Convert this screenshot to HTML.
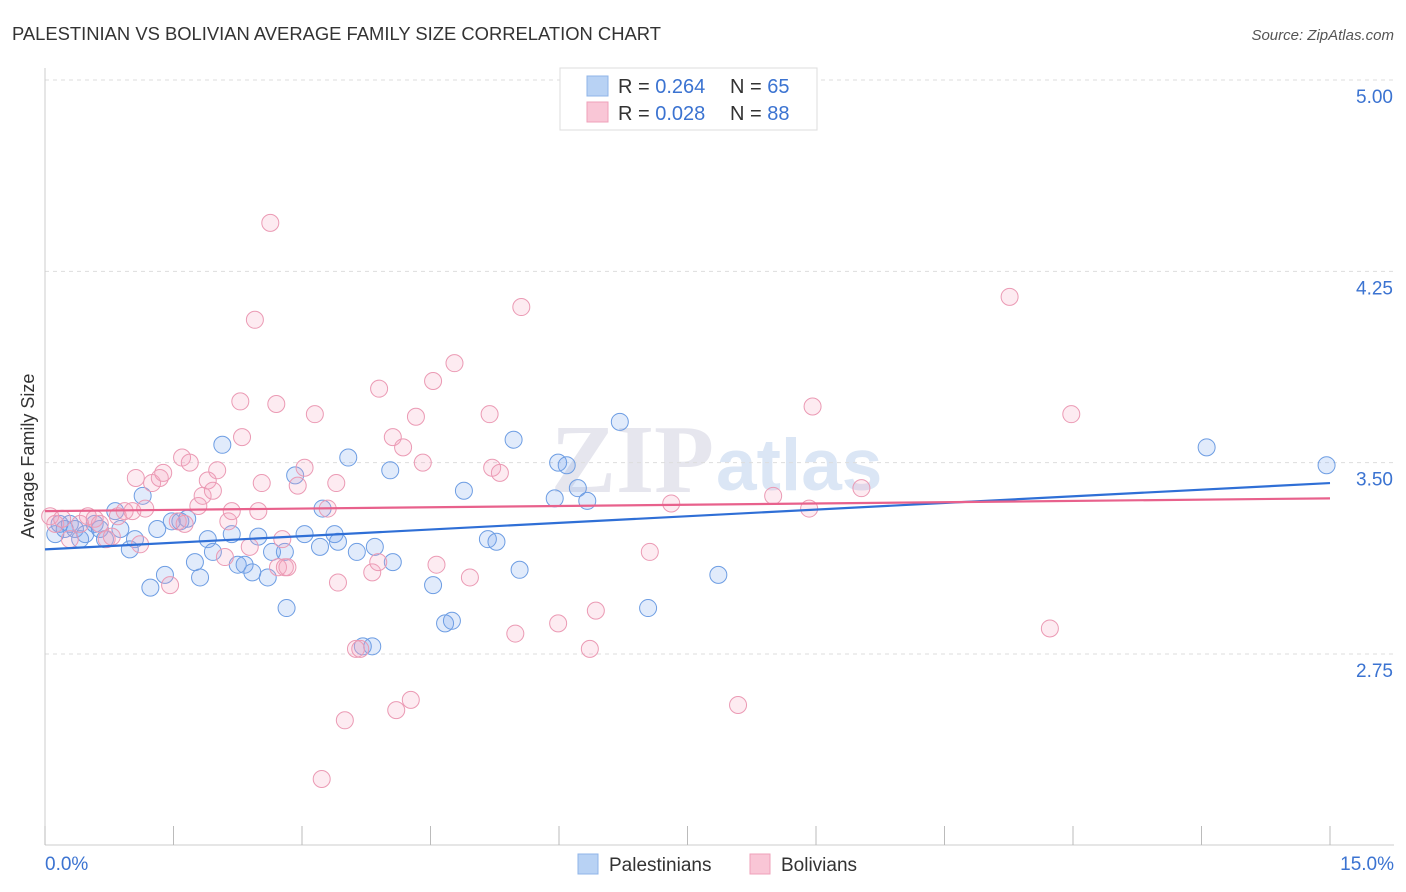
<!DOCTYPE html>
<html><head><meta charset="utf-8">
<style>
body{margin:0;background:#fff;font-family:"Liberation Sans",sans-serif;}
svg{display:block}
</style></head>
<body>
<svg id="chart" width="1406" height="892" xmlns="http://www.w3.org/2000/svg">
<text x="12" y="40" font-size="18.4" fill="#333">PALESTINIAN VS BOLIVIAN AVERAGE FAMILY SIZE CORRELATION CHART</text>
<text x="1394" y="40" font-size="15" fill="#555" font-style="italic" text-anchor="end">Source: ZipAtlas.com</text>
<text x="714" y="492" font-size="98" fill="#e6e6ee" text-anchor="end" font-family="Liberation Serif" font-weight="bold">ZIP</text>
<text x="716" y="490" font-size="73" fill="#dbe6f5" font-weight="bold">atlas</text>
<text x="34" y="456" font-size="18" fill="#333" text-anchor="middle" transform="rotate(-90 34 456)">Average Family Size</text>
<g id="grid"></g><g id="axes"></g><g id="pts"></g><g id="trend"></g>
<g>
<rect x="560" y="68" width="257" height="62" fill="#fff" stroke="#ddd"/>
<rect x="587" y="76" width="21" height="20" fill="#b8d2f4" stroke="#8fb4e8"/>
<rect x="587" y="102" width="21" height="20" fill="#f9c6d6" stroke="#efa0ba"/>
<text x="618" y="93" font-size="20" fill="#333">R = <tspan fill="#3b73d1">0.264</tspan></text>
<text x="730" y="93" font-size="20" fill="#333">N = <tspan fill="#3b73d1">65</tspan></text>
<text x="618" y="120" font-size="20" fill="#333">R = <tspan fill="#3b73d1">0.028</tspan></text>
<text x="730" y="120" font-size="20" fill="#333">N = <tspan fill="#3b73d1">88</tspan></text>
</g>
<g>
<rect x="578" y="854" width="20" height="20" fill="#b8d2f4" stroke="#8fb4e8"/>
<text x="609" y="871" font-size="19" fill="#333">Palestinians</text>
<rect x="750" y="854" width="20" height="20" fill="#f9c6d6" stroke="#efa0ba"/>
<text x="781" y="871" font-size="19" fill="#333">Bolivians</text>
</g>
</svg>
<script>
const yTicks=[2.75,3.50,4.25,5.00];
const xTickLabels=["0.0%","15.0%"];
const blueX=[.12,.17,.23,.29,.35,.41,.47,.58,.64,.70,.82,.88,.99,1.05,1.14,1.23,1.31,1.40,1.48,1.58,1.66,1.75,1.81,1.90,1.96,2.07,2.18,2.25,2.33,2.42,2.49,2.60,2.65,2.80,2.82,2.92,3.03,3.21,3.24,3.38,3.42,3.54,3.64,3.71,3.82,3.85,4.03,4.06,4.53,4.67,4.75,4.89,5.17,5.27,5.47,5.54,5.95,5.99,6.09,6.22,6.33,6.71,7.04,7.86,13.56,14.96];
const blueY=[3.22,3.26,3.24,3.26,3.24,3.20,3.22,3.26,3.24,3.20,3.31,3.24,3.16,3.20,3.37,3.01,3.24,3.06,3.27,3.27,3.28,3.11,3.05,3.20,3.15,3.57,3.22,3.10,3.10,3.07,3.21,3.05,3.15,3.15,2.93,3.45,3.22,3.17,3.32,3.22,3.19,3.52,3.15,2.78,2.78,3.17,3.47,3.11,3.02,2.87,2.88,3.39,3.20,3.19,3.59,3.08,3.36,3.50,3.49,3.40,3.35,3.66,2.93,3.06,3.56,3.49];
const pinkX=[.06,.12,.20,.29,.41,.50,.58,.64,.72,.78,.85,.93,1.02,1.06,1.11,1.17,1.25,1.34,1.38,1.46,1.55,1.60,1.63,1.69,1.79,1.84,1.90,1.96,2.01,2.10,2.14,2.18,2.28,2.30,2.39,2.45,2.49,2.53,2.63,2.70,2.72,2.77,2.80,2.83,2.95,3.03,3.15,3.23,3.30,3.40,3.42,3.50,3.63,3.68,3.82,3.89,3.90,4.06,4.10,4.18,4.27,4.33,4.41,4.53,4.57,4.78,4.96,5.19,5.22,5.31,5.49,5.56,5.99,6.36,6.43,7.06,7.31,8.09,8.50,8.92,8.96,9.53,11.26,11.73,11.98];
const pinkY=[3.29,3.26,3.28,3.20,3.26,3.29,3.28,3.26,3.20,3.21,3.29,3.31,3.31,3.44,3.18,3.32,3.42,3.44,3.46,3.02,3.27,3.52,3.26,3.50,3.33,3.37,3.43,3.39,3.47,3.13,3.27,3.31,3.74,3.60,3.17,4.06,3.31,3.42,4.44,3.73,3.09,3.20,3.09,3.09,3.41,3.48,3.69,2.26,3.32,3.42,3.03,2.49,2.77,2.77,3.07,3.11,3.79,3.60,2.53,3.56,2.57,3.68,3.50,3.82,3.10,3.89,3.05,3.69,3.48,3.46,2.83,4.11,2.87,2.77,2.92,3.15,3.34,2.55,3.37,3.32,3.72,3.40,4.15,2.85,3.69];
const blueTrend=[3.16,3.42];
const pinkTrend=[3.31,3.36];
const NS="http://www.w3.org/2000/svg";
const sx=v=>45+v/15*1285;
const sy=v=>80+(5-v)*255.1;
function mk(tag,attrs,parent){const e=document.createElementNS(NS,tag);for(const k in attrs)e.setAttribute(k,attrs[k]);parent.appendChild(e);return e;}
const grid=document.getElementById('grid'),axes=document.getElementById('axes'),pts=document.getElementById('pts'),tr=document.getElementById('trend');
yTicks.forEach(t=>{
 const l=mk('line',{x1:45,x2:1394,y1:sy(t),y2:sy(t),stroke:'#ddd','stroke-dasharray':'4 4'},grid);
 
 
 const tx=mk('text',{x:1393,y:sy(t)+23,'font-size':19,fill:'#3b73d1','text-anchor':'end'},axes);
 tx.textContent=t.toFixed(2);
 
 
});
const ax=mk('line',{x1:45,x2:45,y1:68,y2:845,stroke:'#ccc'},axes);


const bx=mk('line',{x1:45,x2:1394,y1:845,y2:845,stroke:'#ccc'},axes);


for(let i=0;i<=10;i++){
 const tk=mk('line',{x1:sx(i*1.5),x2:sx(i*1.5),y1:826,y2:845,stroke:'#bbb'},axes);
 
 
}
const xl0=mk('text',{x:45,y:870,'font-size':19,fill:'#3b73d1'},axes);xl0.textContent=xTickLabels[0];


const xl1=mk('text',{x:1394,y:870,'font-size':19,fill:'#3b73d1','text-anchor':'end'},axes);xl1.textContent=xTickLabels[1];


blueX.forEach((x,i)=>{
 const c=mk('circle',{cx:sx(x),cy:sy(blueY[i]),r:8.5,fill:'rgba(120,165,235,0.22)',stroke:'#6d9de3','stroke-width':1},pts);
 
 
});
pinkX.forEach((x,i)=>{
 const c=mk('circle',{cx:sx(x),cy:sy(pinkY[i]),r:8.5,fill:'rgba(245,165,190,0.22)',stroke:'#eb9ab4','stroke-width':1},pts);
 
 
});
const bl=mk('line',{x1:sx(0),x2:sx(15),y1:sy(blueTrend[0]),y2:sy(blueTrend[1]),stroke:'#2f6fd6','stroke-width':2.2},tr);


const pl=mk('line',{x1:sx(0),x2:sx(15),y1:sy(pinkTrend[0]),y2:sy(pinkTrend[1]),stroke:'#e8618c','stroke-width':2.2},tr);


</script>
</body></html>
